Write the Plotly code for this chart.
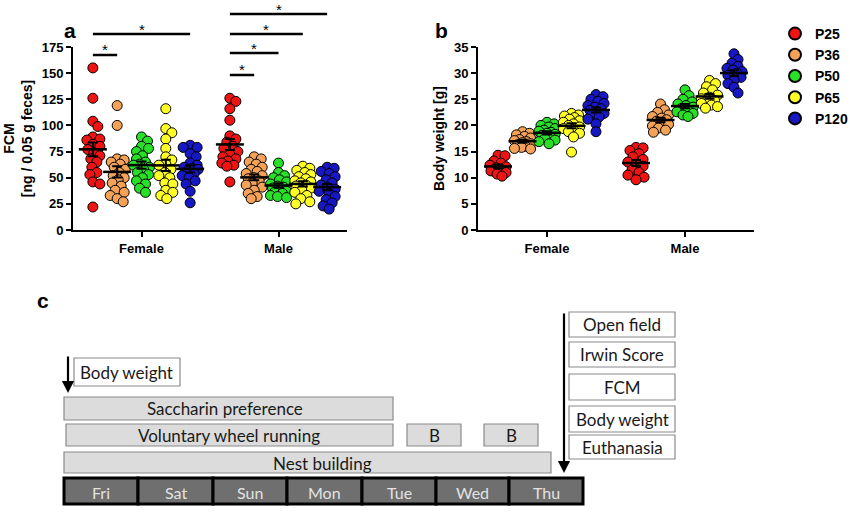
import numpy as np
import plotly.graph_objects as go

# ---------------- data ----------------
groups = ["P25", "P36", "P50", "P65", "P120"]
colors = ["#ee1414", "#f4a257", "#27e027", "#ffff26", "#1717c4"]
sexes = ["Female", "Male"]

# panel a: FCM [ng / 0.05 g feces]
fcm_f_p25 = [155, 126, 104, 99, 89, 87, 86, 82, 80, 77, 74, 71, 68, 65, 60, 55, 53, 46, 44, 22]
fcm_f_p36 = [119, 100, 68, 67, 65, 63, 60, 58, 55, 52, 50, 48, 45, 42, 38, 36, 33, 30, 27]
fcm_f_p50 = [89, 85, 80, 78, 75, 71, 68, 65, 63, 62, 60, 58, 55, 53, 50, 47, 44, 40, 36]
fcm_f_p65 = [116, 97, 93, 87, 78, 70, 67, 63, 62, 58, 55, 52, 50, 45, 44, 38, 36, 33, 30]
fcm_f_p120 = [81, 79, 79, 73, 70, 64, 62, 60, 59, 58, 56, 54, 52, 50, 47, 44, 37, 26]
fcm_m_p25 = [126, 123, 116, 105, 90, 87, 84, 80, 78, 75, 72, 70, 68, 66, 64, 62, 61, 46]
fcm_m_p36 = [70, 68, 65, 63, 60, 58, 56, 54, 52, 50, 49, 47, 45, 43, 41, 38, 35, 32, 30]
fcm_m_p50 = [64, 55, 52, 50, 48, 46, 44, 42, 41, 40, 38, 37, 36, 35, 33, 32, 31]
fcm_m_p65 = [61, 59, 57, 55, 53, 51, 49, 47, 46, 45, 43, 42, 40, 38, 36, 33, 30, 27, 25]
fcm_m_p120 = [60, 59, 56, 54, 51, 48, 45, 43, 41, 39, 37, 35, 32, 29, 26, 23, 20]

# panel b: body weight [g]
bw_f_p25 = [14.3, 14.2, 13.2, 12.8, 12.4, 12.1, 11.9, 11.6, 11.3, 11.0, 10.7, 10.3]
bw_f_p36 = [18.8, 18.5, 18.2, 17.9, 17.6, 17.3, 17.1, 16.9, 16.7, 16.5, 16.3, 16.0, 15.8, 15.6, 15.5]
bw_f_p50 = [20.6, 20.3, 20.0, 19.7, 19.4, 19.1, 18.9, 18.7, 18.5, 18.3, 18.1, 17.8, 17.5, 17.2, 16.9, 16.5]
bw_f_p65 = [22.3, 22.0, 21.8, 21.5, 21.2, 20.9, 20.6, 20.3, 20.0, 19.7, 19.4, 19.1, 18.8, 18.5, 17.8, 14.9]
bw_f_p120 = [25.9, 25.5, 25.0, 24.6, 24.2, 23.8, 23.5, 23.2, 22.9, 22.6, 22.3, 22.0, 21.6, 21.2, 20.3, 18.8]
bw_m_p25 = [15.8, 15.7, 15.2, 14.6, 14.0, 13.5, 13.0, 12.6, 12.2, 11.5, 11.0, 10.5, 10.1, 9.6]
bw_m_p36 = [24.1, 23.0, 22.5, 22.0, 21.7, 21.4, 21.1, 20.8, 20.5, 20.2, 19.9, 19.5, 19.1, 18.7]
bw_m_p50 = [26.8, 25.7, 25.0, 24.5, 24.1, 23.8, 23.5, 23.2, 22.9, 22.6, 22.3, 22.0, 21.7]
bw_m_p65 = [28.6, 28.0, 27.4, 26.8, 26.2, 25.8, 25.4, 25.1, 24.8, 24.5, 24.2, 23.9, 23.6, 23.3]
bw_m_p120 = [33.7, 32.6, 31.9, 31.3, 30.9, 30.6, 30.3, 30.0, 29.6, 29.2, 28.6, 28.0, 27.3, 26.2]

fcm_ticks = [0, 25, 50, 75, 100, 125, 150, 175]
bw_ticks = [0, 5, 10, 15, 20, 25, 30, 35]

# significance comparisons (panel a): (sex index, group i, group j, bar pixel row)
sig_pairs = [(0, 0, 1, 55), (0, 0, 4, 34), (1, 0, 1, 75), (1, 0, 2, 53), (1, 0, 3, 34), (1, 0, 4, 14)]

days = ["Fri", "Sat", "Sun", "Mon", "Tue", "Wed", "Thu"]
right_boxes = ["Open field", "Irwin Score", "FCM", "Body weight", "Euthanasia"]

fcm = {0: [fcm_f_p25, fcm_f_p36, fcm_f_p50, fcm_f_p65, fcm_f_p120],
       1: [fcm_m_p25, fcm_m_p36, fcm_m_p50, fcm_m_p65, fcm_m_p120]}
bw = {0: [bw_f_p25, bw_f_p36, bw_f_p50, bw_f_p65, bw_f_p120],
      1: [bw_m_p25, bw_m_p36, bw_m_p50, bw_m_p65, bw_m_p120]}

# ---------------- layout geometry ----------------
W, H = 850, 515
def px(x): return x / W
def py(y): return 1 - y / H

A_X = (73, 347)
B_X = (478, 754)
Y_DOM = (230, 47)
GOFF = [-0.355, -0.1775, 0.0, 0.1775, 0.355]
PX_PER_X = (A_X[1] - A_X[0]) / 2.0

def swarm(vals, px_per_unit, d=9.0, max_off=8):
    vals = list(vals)
    order = np.argsort(-np.array(vals))
    cands = [0.0]
    k = 1
    while k <= max_off:
        cands += [float(k), float(-k)]
        k += 1
    placed = []
    offs = np.zeros(len(vals))
    for i in order:
        y = vals[i] * px_per_unit
        best, bestc, bests = None, 0.0, -1
        for c in cands:
            md = min([np.hypot(c - q[1], y - q[0]) for q in placed], default=1e9)
            if md >= d * 0.75:
                best = c
                break
            if md > bests:
                bests, bestc = md, c
        if best is None:
            best = bestc
        placed.append((y, best))
        offs[i] = best
    return offs / PX_PER_X

fig = go.Figure()
FONT = "Liberation Sans, Arial, sans-serif"

def add_panel(data, ppu, xa, ya, show):
    for g in range(5):
        xs, ys = [], []
        for s in range(2):
            v = data[s][g]
            o = swarm(v, ppu)
            xs += list(s + GOFF[g] + o)
            ys += list(v)
        fig.add_trace(go.Scatter(
            x=xs, y=ys, mode="markers", name=groups[g],
            showlegend=show, xaxis=xa, yaxis=ya,
            marker=dict(size=10, color=colors[g], line=dict(color="black", width=1))))
    for g in range(5):
        mx, my, se = [], [], []
        for s in range(2):
            v = np.array(data[s][g], dtype=float)
            mx.append(s + GOFF[g])
            my.append(v.mean())
            se.append(v.std(ddof=1) / np.sqrt(len(v)))
        fig.add_trace(go.Scatter(
            x=mx, y=my, mode="markers", showlegend=False, xaxis=xa, yaxis=ya,
            marker=dict(symbol="line-ew", size=20, line=dict(color="black", width=2.5)),
            error_y=dict(type="data", array=se, color="black", thickness=2, width=5)))

add_panel(fcm, (Y_DOM[0] - Y_DOM[1]) / 175.0, "x", "y", True)
add_panel(bw, (Y_DOM[0] - Y_DOM[1]) / 35.0, "x2", "y2", False)

axis_common = dict(showline=True, linewidth=2, linecolor="black", ticks="outside",
                   ticklen=5, tickwidth=2, tickcolor="black", showgrid=False, zeroline=False,
                   automargin=False,
                   tickfont=dict(family=FONT, size=13, color="black", weight="bold"))
xcat = dict(range=[-0.5, 1.5], tickvals=[0, 1], ticktext=sexes, **axis_common)
fig.update_layout(
    width=W, height=H, autosize=False,
    margin=dict(l=0, r=0, t=0, b=0, autoexpand=False),
    plot_bgcolor="white", paper_bgcolor="white",
    xaxis=dict(domain=[px(A_X[0]), px(A_X[1])], anchor="y", **xcat),
    yaxis=dict(domain=[py(Y_DOM[0]), py(Y_DOM[1])], anchor="x", range=[0, 175],
               tickvals=fcm_ticks,
               title=dict(text="FCM<br>[ng / 0.05 g feces]", standoff=6,
                          font=dict(family=FONT, size=14, color="black", weight="bold")),
               **axis_common),
    xaxis2=dict(domain=[px(B_X[0]), px(B_X[1])], anchor="y2", **xcat),
    yaxis2=dict(domain=[py(Y_DOM[0]), py(Y_DOM[1])], anchor="x2", range=[0, 35],
                tickvals=bw_ticks,
                title=dict(text="Body weight [g]", standoff=6,
                           font=dict(family=FONT, size=14, color="black", weight="bold")),
                **axis_common),
    legend=dict(x=px(775), y=py(18), xanchor="left", yanchor="top",
                font=dict(family=FONT, size=14, color="black", weight="bold"),
                itemsizing="constant", bgcolor="rgba(0,0,0,0)", tracegroupgap=0),
)

shapes = []
annots = []
# significance bars
for s, i, j, ypix in sig_pairs:
    x0 = s + GOFF[i]
    x1 = s + GOFF[j]
    shapes.append(dict(type="line", xref="x", yref="paper", x0=x0, x1=x1,
                       y0=py(ypix), y1=py(ypix), line=dict(color="black", width=2.5)))
    annots.append(dict(xref="x", yref="paper", x=(x0 + x1) / 2, y=py(ypix - 5),
                       text="*", showarrow=False, yanchor="middle",
                       font=dict(family=FONT, size=15, color="black")))

# panel letters
for t, x, y in [("a", 62, 17), ("b", 441, 17), ("c", 35, 300)]:
    annots.append(dict(xref="paper", yref="paper", x=px(x), y=py(y), text=t,
                       showarrow=False, font=dict(family=FONT, size=21, color="black", weight="bold")))

CF = "Lato, Noto Sans, sans-serif"
def box(x0, y0, x1, y1, fill, line="#8a8a8a", lw=1.2):
    shapes.append(dict(type="rect", xref="paper", yref="paper", x0=px(x0), x1=px(x1),
                       y0=py(y1), y1=py(y0), fillcolor=fill, line=dict(color=line, width=lw)))

def label(x, y, t, size=17, color="#1a1a1a", anchor="center"):
    annots.append(dict(xref="paper", yref="paper", x=px(x), y=py(y), text=t, showarrow=False,
                       xanchor=anchor, yanchor="middle",
                       font=dict(family=CF, size=size, color=color)))

# days bar
day_edges = [64, 138, 213, 287, 362, 436, 509, 583]
for k, d in enumerate(days):
    box(day_edges[k], 478, day_edges[k + 1], 504, "#6f6f6f", line="black", lw=3)
    label((day_edges[k] + day_edges[k + 1]) / 2, 492, d, size=16, color="#e2e2e2")

box(64, 452, 551, 473, "#dcdcdc")
label(322, 463, "Nest building")
box(66, 424, 393, 446, "#dcdcdc")
label(229, 435, "Voluntary wheel running")
box(64, 397, 393, 420, "#dcdcdc")
label(225, 408, "Saccharin preference")
box(407, 424, 461, 446, "#dcdcdc")
label(434, 435, "B")
box(484, 424, 538, 446, "#dcdcdc")
label(511, 435, "B")
box(74, 358, 180, 386, "white")
label(78, 372, "Body weight", anchor="left")

rb = [(312, 337), (342, 367), (374, 400), (406, 432), (435, 459)]
for (y0, y1), t in zip(rb, right_boxes):
    box(569, y0, 675, y1, "white")
    label(622, (y0 + y1) / 2, t)

# arrows
annots.append(dict(xref="paper", yref="paper", x=px(68), y=py(393), ax=0, ay=-38,
                   axref="pixel", ayref="pixel", text="", showarrow=True,
                   arrowhead=2, arrowsize=1.1, arrowwidth=2.2, arrowcolor="black"))
annots.append(dict(xref="paper", yref="paper", x=px(564), y=py(473), ax=0, ay=-161,
                   axref="pixel", ayref="pixel", text="", showarrow=True,
                   arrowhead=2, arrowsize=1.1, arrowwidth=2.2, arrowcolor="black"))

fig.update_layout(shapes=shapes, annotations=annots)
fig.write_html("out.html", config={"displayModeBar": False},
               post_script="document.body.style.margin='0px';")
